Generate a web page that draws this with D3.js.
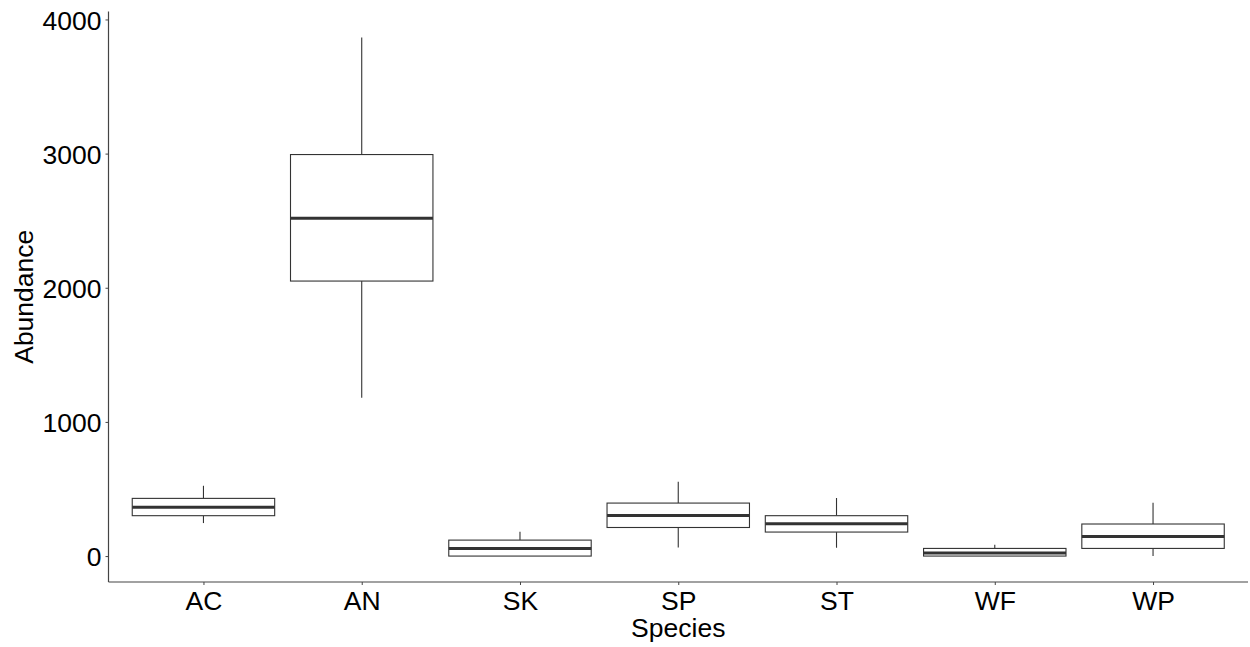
<!DOCTYPE html>
<html>
<head>
<meta charset="utf-8">
<script src="https://cdn.jsdelivr.net/npm/d3@7"></script>
<style>
  body { margin: 0; background: #fff; }
  svg { display: block; font-family: "Liberation Sans", Arial, sans-serif; }
</style>
</head>
<body>
<svg id="chart"></svg>
<script>
// box summaries
var species = ["AC", "AN", "SK", "SP", "ST", "WF", "WP"];
var whiskerLow = [246, 1181, 0, 64, 62, 0, 0];
var q1 = [301, 2050, 0, 213, 179, 0, 57];
var median = [363, 2519, 57, 303, 241, 22, 146];
var q3 = [430, 2993, 119, 395, 301, 57, 239];
var whiskerHigh = [524, 3866, 181, 554, 433, 84, 398];
var yTicks = [0, 1000, 2000, 3000, 4000];

var width = 1250, height = 647;
var margin = {top: 11.5, right: 2, bottom: 65, left: 108.5};

var svg = d3.select("#chart").attr("width", width).attr("height", height);

var rows = species.map(function(s, i) {
    return {name: s, lo: whiskerLow[i], q1: q1[i], med: median[i], q3: q3[i], hi: whiskerHigh[i]};
});

// ggplot-like expansion: 0.6 units on discrete x, 5% on y
var x = d3.scalePoint()
    .domain(species)
    .range([margin.left, width - margin.right])
    .padding(0.6);
var step = x.step();
var boxW = step * 0.9;

var ymin = d3.min(whiskerLow), ymax = d3.max(whiskerHigh);
var pad = (ymax - ymin) * 0.05;
var y = d3.scaleLinear()
    .domain([ymin - pad, ymax + pad])
    .range([height - margin.bottom, margin.top]);

var g = svg.append("g");

var box = g.selectAll("g.box")
    .data(rows)
    .enter()
    .append("g")
    .attr("class", "box");

// whiskers
box.append("line")
    .attr("x1", function(d) { return x(d.name); })
    .attr("x2", function(d) { return x(d.name); })
    .attr("y1", function(d) { return y(d.q3); })
    .attr("y2", function(d) { return y(d.hi); })
    .attr("stroke", "#333").attr("stroke-width", 1.1);
box.append("line")
    .attr("x1", function(d) { return x(d.name); })
    .attr("x2", function(d) { return x(d.name); })
    .attr("y1", function(d) { return y(d.q1); })
    .attr("y2", function(d) { return y(d.lo); })
    .attr("stroke", "#333").attr("stroke-width", 1.1);

box.append("rect")
    .attr("x", function(d) { return x(d.name) - boxW / 2; })
    .attr("width", boxW)
    .attr("y", function(d) { return y(d.q3); })
    .attr("height", function(d) { return y(d.q1) - y(d.q3); })
    .attr("fill", "#fff")
    .attr("stroke", "#333")
    .attr("stroke-width", 1.1);

box.append("line")
    .attr("x1", function(d) { return x(d.name) - boxW / 2; })
    .attr("x2", function(d) { return x(d.name) + boxW / 2; })
    .attr("y1", function(d) { return y(d.med); })
    .attr("y2", function(d) { return y(d.med); })
    .attr("stroke", "#333").attr("stroke-width", 3);

// axes
var xAxis = svg.append("g")
    .attr("transform", "translate(0," + (height - margin.bottom) + ")")
    .call(d3.axisBottom(x).tickSize(3).tickPadding(6));
var yAxis = svg.append("g")
    .attr("transform", "translate(" + margin.left + ",0)")
    .call(d3.axisLeft(y).tickValues(yTicks).tickSize(3).tickPadding(4).tickFormat(d3.format("d")));

[xAxis, yAxis].forEach(function(ax) {
    ax.select(".domain").attr("stroke", "#444").attr("stroke-width", 1.2);
    ax.selectAll(".tick line").attr("stroke", "#444");
    ax.selectAll(".tick text")
        .attr("fill", "#000")
        .style("font-size", "26.5px")
        .style("font-family", "'Liberation Sans', Arial, sans-serif");
});
// clip the x domain to the panel (no end caps)
xAxis.select(".domain").attr("d", "M" + margin.left + ",0H" + (width - margin.right));
yAxis.select(".domain").attr("d", "M0," + y.range()[0] + "V" + y.range()[1]);
yAxis.selectAll(".tick text").attr("dy", "0.36em");

svg.append("text")
    .attr("x", (margin.left + width - margin.right) / 2)
    .attr("y", 637)
    .attr("text-anchor", "middle")
    .style("font-size", "26.5px")
    .text("Species");

svg.append("text")
    .attr("transform", "translate(33," + ((margin.top + height - margin.bottom) / 2) + ") rotate(-90)")
    .attr("text-anchor", "middle")
    .style("font-size", "26.5px")
    .text("Abundance");
</script>
</body>
</html>
